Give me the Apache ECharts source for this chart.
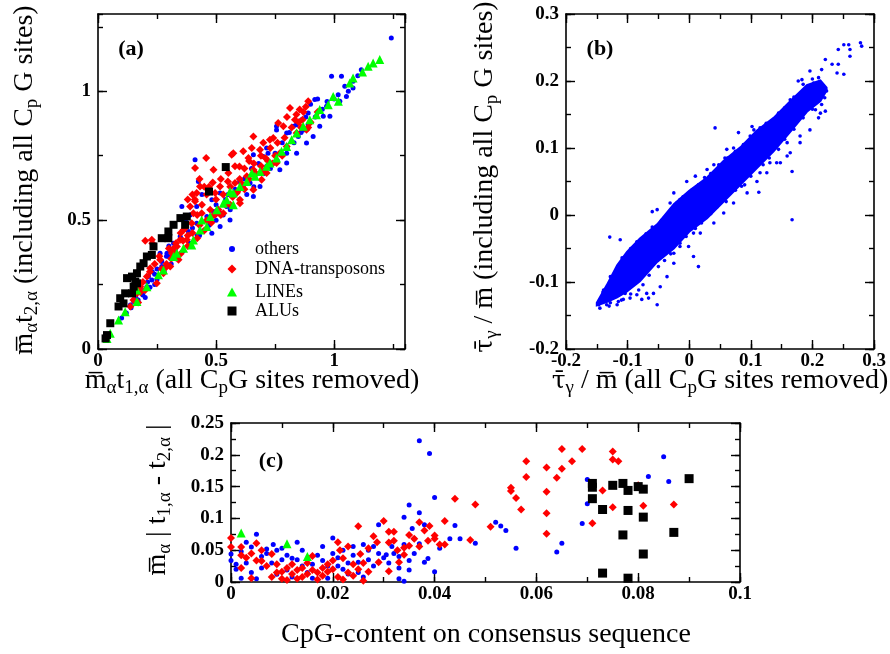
<!DOCTYPE html>
<html><head><meta charset="utf-8">
<script src="https://cdn.jsdelivr.net/npm/echarts@6/dist/echarts.min.js"></script>
<style>html,body{margin:0;padding:0;background:#fff}#c{width:890px;height:654px}</style>
</head><body><div id="c"></div><script>
// ---------- panel (a): m t1 vs m t2 ----------
const aOthers = [[1.242,1.207],[0.989,1.058],[1.031,1.058],[1.115,1.084],[1.08,1.039],[1.06,1.0],[1.045,1.02],[1.052,0.98],[1.017,0.987],[1.08,1.013],[1.1,1.06],[1.0,0.97],
[0.918,0.968],[0.968,0.942],[0.954,0.903],[0.89,0.916],[0.862,0.89],[0.848,0.825],[0.827,0.864],[0.799,0.838],[0.756,0.864],[0.756,0.85],[0.714,0.78],[0.7,0.747],[0.658,0.754],[0.799,0.76],[0.742,0.722],[0.714,0.709],[0.686,0.683],[0.644,0.644],[0.615,0.631],[0.587,0.611],[0.545,0.553],[0.517,0.527],[0.489,0.534],[0.461,0.514],[0.418,0.488],[0.383,0.456],[0.348,0.437],[0.327,0.385],[0.299,0.359],[0.27,0.32],[0.228,0.268],[0.207,0.242],[0.151,0.184],[0.137,0.171],[0.263,0.372],[0.292,0.372],[0.214,0.281],[0.461,0.469],[0.482,0.449],[0.517,0.475],[0.559,0.501],[0.658,0.592],[0.686,0.631],[0.77,0.696],[0.799,0.722],[0.841,0.76],[0.883,0.799],[0.911,0.825],[0.939,0.864],[0.982,0.903],[1.024,0.961],
[0.411,0.734],[0.425,0.65],[0.355,0.553],[0.418,0.553],[0.482,0.579],[0.517,0.605],[0.44,0.6],[0.39,0.52],[0.37,0.5],[0.4,0.47],[0.43,0.44],[0.47,0.48],[0.5,0.5],[0.53,0.52],[0.56,0.54],[0.6,0.58],[0.63,0.6],[0.66,0.63],[0.7,0.68],[0.73,0.7],[0.76,0.73],[0.8,0.78],[0.83,0.8],[0.86,0.84],[0.89,0.87],[0.92,0.9],[0.95,0.93],[0.88,0.9],[0.84,0.87],[0.78,0.8],[0.75,0.76],[0.62,0.66],[0.58,0.62],[0.54,0.58],[0.31,0.33],[0.28,0.3],[0.25,0.27],[0.22,0.24],[0.19,0.21],[0.17,0.19],[0.2,0.2],[0.24,0.25],[0.33,0.35],[0.36,0.38],[0.39,0.41],[0.42,0.44],[0.45,0.46],[0.35,0.43],[0.32,0.41],[0.3,0.4],[0.5,0.56],[0.55,0.6],[0.65,0.7],[0.68,0.72],[0.72,0.76],[0.6,0.65],[0.9,0.95],[0.93,0.97],[0.97,0.96],[0.87,0.85],[0.81,0.84],
[0.1,0.12],[0.12,0.14],[0.14,0.16],[0.16,0.2],[0.18,0.24],[0.21,0.26],[0.23,0.3],[0.25,0.31],[0.27,0.34],[0.29,0.36],[0.31,0.38],[0.24,0.29]];
const aDNA = [[0.411,0.702],[0.458,0.741],[0.489,0.696],[0.486,0.646],[0.496,0.605],[0.566,0.754],[0.573,0.76],[0.599,0.708],[0.615,0.767],[0.658,0.825],[0.686,0.773],[0.728,0.812],[0.742,0.819],[0.813,0.935],[0.854,0.929],[0.89,0.961],[0.866,0.89],[0.834,0.89],[0.785,0.864],[0.763,0.877],[0.651,0.78],[0.637,0.741],[0.58,0.709],[0.552,0.683],[0.58,0.644],[0.587,0.605],[0.601,0.566],[0.63,0.67],[0.658,0.696],[0.517,0.631],[0.432,0.631],[0.418,0.605],[0.411,0.573],[0.39,0.553],[0.404,0.527],[0.439,0.527],[0.475,0.54],[0.496,0.521],[0.531,0.527],[0.397,0.488],[0.362,0.462],[0.348,0.424],[0.334,0.398],[0.313,0.372],[0.376,0.424],[0.228,0.424],[0.263,0.346],[0.284,0.313],[0.221,0.313],[0.207,0.281],[0.179,0.242],[0.165,0.216],[0.137,0.165],[0.601,0.579],[0.658,0.618],[0.693,0.657],[0.714,0.683],[0.756,0.722],[0.78,0.75],[0.841,0.838],[0.883,0.851],[0.89,0.86],[0.9,0.88],[0.77,0.76],[0.799,0.786],[0.74,0.72],[0.7,0.69],[0.62,0.62],[0.56,0.56],[0.52,0.52],[0.48,0.49],[0.45,0.46],[0.42,0.43],[0.38,0.4],[0.35,0.37],[0.341,0.346],[0.306,0.32],[0.277,0.294],[0.249,0.255],[0.2,0.229],[0.17,0.18],
[0.33,0.41],[0.3,0.39],[0.35,0.45],[0.37,0.47],[0.42,0.52],[0.44,0.56],[0.46,0.6],[0.47,0.63],[0.5,0.58],[0.53,0.6],[0.56,0.63],[0.6,0.66],[0.62,0.7],[0.66,0.72],[0.69,0.75],[0.71,0.74],[0.73,0.78],[0.76,0.8],[0.79,0.82],[0.82,0.86],[0.85,0.88],[0.87,0.92],[0.88,0.94],[0.84,0.91],[0.8,0.9],[0.7,0.8],[0.64,0.73],[0.55,0.65],[0.52,0.66],[0.45,0.63],[0.43,0.66],[0.4,0.6],[0.38,0.58],[0.41,0.58],[0.27,0.31],[0.26,0.36],[0.24,0.33],[0.22,0.3],[0.19,0.26],[0.18,0.22],[0.15,0.19],[0.29,0.33],[0.31,0.35],[0.33,0.37],[0.32,0.39],[0.36,0.42],[0.38,0.44],[0.4,0.45],[0.43,0.48],[0.46,0.5],[0.49,0.52],[0.51,0.54],[0.54,0.56],[0.57,0.59],[0.59,0.61],[0.61,0.64],[0.64,0.66],[0.67,0.68],[0.69,0.71],[0.72,0.73],[0.75,0.75],[0.86,0.86],[0.93,0.92],[0.2,0.42],[0.23,0.41]];
const aLines = [[1.193,1.123],[1.165,1.11],[1.144,1.097],[1.12,1.075],[1.08,1.052],[1.066,1.032],[0.996,0.98],[1.018,0.961],[0.975,0.948],[0.939,0.929],[0.925,0.909],[0.897,0.89],[0.869,0.864],[0.841,0.838],[0.82,0.812],[0.799,0.786],[0.777,0.767],[0.756,0.741],[0.728,0.722],[0.714,0.709],[0.686,0.689],[0.665,0.67],[0.651,0.683],[0.63,0.65],[0.601,0.631],[0.573,0.605],[0.559,0.611],[0.545,0.579],[0.531,0.566],[0.573,0.56],[0.503,0.54],[0.475,0.514],[0.439,0.501],[0.461,0.475],[0.432,0.462],[0.404,0.423],[0.397,0.404],[0.362,0.391],[0.334,0.372],[0.32,0.359],[0.277,0.307],[0.256,0.288],[0.207,0.242],[0.165,0.229],[0.165,0.184],[0.115,0.145],[0.087,0.113],[0.052,0.061],[0.038,0.041]];
const aAlus = [[0.032,0.041],[0.038,0.054],[0.052,0.1],[0.087,0.165],[0.094,0.197],[0.115,0.216],[0.144,0.216],[0.123,0.275],[0.144,0.281],[0.158,0.262],[0.165,0.294],[0.179,0.32],[0.193,0.333],[0.207,0.359],[0.228,0.365],[0.235,0.398],[0.27,0.43],[0.298,0.43],[0.298,0.456],[0.32,0.482],[0.349,0.508],[0.376,0.514],[0.369,0.482],[0.47,0.611],[0.541,0.706],[0.151,0.242],[0.165,0.255],[0.108,0.177]];

// ---------- panel (b): tau / m ----------
const bBandX  = [-0.150,-0.134,-0.117,-0.101,-0.080,-0.052,-0.025, 0.000, 0.029, 0.056, 0.083, 0.110, 0.137, 0.164, 0.191, 0.213, 0.223];
const bBandLo = [-0.135,-0.130,-0.123,-0.114,-0.099,-0.070,-0.050,-0.025,-0.005, 0.020, 0.045, 0.070, 0.095, 0.124, 0.154, 0.170, 0.186];
const bBandHi = [-0.131,-0.105,-0.075,-0.055,-0.035,-0.014, 0.016, 0.036, 0.056, 0.081, 0.101, 0.126, 0.145, 0.170, 0.194, 0.201, 0.190];
const bPoints = [[-0.129,-0.033],[-0.112,-0.037],[-0.06,0.005],[-0.052,0.008],[0.042,0.13],[0.102,0.132],[0.159,0.088],[0.167,0.065],[0.167,-0.007],[0.113,0.034],[0.015,-0.077],[-0.004,0.05],[0.01,0.058],[0.058,0.085],[0.08,0.123],[0.072,0.1],[-0.052,-0.134],[-0.066,-0.124],[-0.096,-0.124],[-0.107,-0.126],[-0.117,-0.134],[-0.134,-0.134],[-0.147,-0.134],[-0.139,-0.112],[-0.128,-0.092],[-0.109,-0.064],[-0.09,-0.049],[-0.071,-0.037],[-0.036,-0.007],[-0.02,0.003],[0.026,0.043],[0.045,0.063],[0.067,0.083],[0.094,0.108],[0.121,0.127],[0.137,0.142],[0.164,0.172],[0.177,0.2],[0.183,0.202],[0.196,0.215],[0.215,0.217],[0.221,0.232],[0.232,0.225],[0.242,0.225],[0.24,0.212],[0.251,0.21],[0.242,0.247],[0.251,0.254],[0.259,0.254],[0.261,0.247],[0.261,0.237],[0.278,0.257],[0.28,0.252],[0.223,0.185],[0.221,0.155],[0.21,0.145],[0.205,0.157],[0.18,0.118],[0.159,0.108],[0.142,0.078],[0.131,0.078],[0.115,0.063],[0.085,0.043],[0.05,0.018],[0.029,-0.002],[0.007,-0.027],[-0.001,-0.047],[0.007,-0.062],[-0.025,-0.072],[-0.036,-0.092],[-0.047,-0.107],[-0.058,-0.117],[-0.085,-0.119],[-0.104,-0.117],[-0.082,-0.112],
[-0.025,0.033],[-0.015,0.023],[-0.031,0.018],[0.029,0.068],[0.04,0.075],[0.061,0.098],[0.099,0.118],[0.131,0.132],[0.142,0.147],[0.159,0.162],[0.175,0.177],[0.191,0.187],[0.202,0.197],[-0.144,-0.126],[-0.136,-0.119],[-0.123,-0.107],[-0.12,-0.087],[-0.104,-0.077],[-0.085,-0.057],[-0.074,-0.047],[-0.058,-0.032],[-0.047,-0.022],[-0.069,-0.117],[-0.077,-0.126],[-0.115,-0.129],[-0.128,-0.131],[-0.025,-0.057],[-0.015,-0.047],[0.018,-0.027],[0.04,-0.012],[0.056,0.003],[0.072,0.018],[0.094,0.033],[0.11,0.05],[0.126,0.063],[0.148,0.078],[0.164,0.093],[0.18,0.108],[0.196,0.127],[0.213,0.152],
[-0.14,-0.115],[-0.125,-0.095],[-0.11,-0.07],[-0.095,-0.05],[-0.085,-0.04],[-0.07,-0.028],[-0.06,-0.018],[-0.045,-0.008],[-0.035,0.002],[-0.02,0.018],[-0.01,0.027],[0.005,0.038],[0.015,0.045],[0.025,0.056],[0.035,0.062],[0.048,0.075],[0.062,0.085],[0.075,0.095],[0.088,0.105],[0.105,0.127],[0.115,0.13],[0.125,0.137],[0.145,0.152],[0.155,0.16],[0.17,0.176],[0.185,0.195],[0.2,0.203],[0.21,0.205],
[-0.145,-0.139],[-0.13,-0.136],[-0.11,-0.127],[-0.095,-0.118],[-0.075,-0.104],[-0.065,-0.09],[-0.05,-0.077],[-0.04,-0.068],[-0.03,-0.058],[-0.015,-0.042],[-0.005,-0.032],[0.01,-0.02],[0.02,-0.012],[0.035,0.002],[0.045,0.012],[0.06,0.02],[0.075,0.037],[0.09,0.045],[0.1,0.058],[0.12,0.075],[0.13,0.085],[0.145,0.098],[0.155,0.113],[0.17,0.128],[0.185,0.145],[0.2,0.158],[0.215,0.165],[0.22,0.175]];

// ---------- panel (c): CpG-content vs |t1-t2| ----------
const cOthers = [[0,0.044],[0,0.034],[0.001,0.028],[0.002,0.006],[0.003,0.0625],[0.004,0.055],[0.005,0.075],[0.006,0.04],[0.007,0.045],[0.0083,0.059],[0.009,0.05],[0.01,0.053],[0.01,0.035],[0.011,0.019],[0.012,0.0375],[0.013,0.0625],[0.013,0.035],[0.014,0.025],[0.016,0.028],[0.018,0.056],[0.018,0.034],[0.019,0.025],[0.02,0.069],[0.021,0.025],[0.022,0.05],[0.023,0.0125],[0.024,0.056],[0.025,0.031],[0.026,0.059],[0.027,0.05],[0.029,0.09],[0.001,0.02],[0.003,0.03],[0.004,0.015],[0.006,0.022],[0.008,0.03],[0.009,0.012],[0.011,0.042],[0.012,0.008],[0.015,0.015],[0.017,0.042],[0.019,0.006],[0.02,0.045],[0.021,0.038],[0.022,0.02],[0.023,0.03],[0.024,0.042],[0.025,0.015],[0.026,0.008],[0.027,0.035],[0.028,0.025],[0.029,0.045],[0.03,0.038],[0.031,0.03],[0.032,0.045],[0.033,0.022],[0.033,0.005],[0.034,0.001],[0.035,0.019],[0.036,0.068],[0.0356,0.084],[0.034,0.059],[0.0316,0.056],[0.0305,0.043],[0.029,0.031],[0.035,0.034],[0.038,0.031],[0.0387,0.037],[0.041,0.053],[0.043,0.068],[0.028,0.056],[0.037,0.222],[0.039,0.202],[0.04,0.133],[0.035,0.121],[0.034,0.102],[0.037,0.109],[0.038,0.09],[0.044,0.089],[0.045,0.068],[0.048,0.061],[0.052,0.094],[0.053,0.088],[0.054,0.081],[0.056,0.053],[0.064,0.047],[0.065,0.061],[0.069,0.092],[0.07,0.123],[0.07,0.161],[0.082,0.166],[0.085,0.197],[0.086,0.158],[0.04,0.016],[0.037,0.06],[0.036,0.045],[0.033,0.04],[0.014,0.05],[0.016,0.006],[0.005,0.005],[0.007,0.052],[0.002,0.048]];
const cDNA = [[0,0.069],[0,0.055],[0.002,0.055],[0.002,0.042],[0.002,0.022],[0.004,0.045],[0.004,0.006],[0.005,0.061],[0.005,0.034],[0.006,0.05],[0.006,0.033],[0.007,0.025],[0.008,0.044],[0.009,0.028],[0.009,0.015],[0.01,0.016],[0.011,0.022],[0.011,0.003],[0.012,0.0125],[0.013,0.019],[0.013,0.005],[0.014,0.022],[0.015,0.0125],[0.016,0.041],[0.016,0.019],[0.017,0.015],[0.018,0.022],[0.019,0.016],[0.02,0.034],[0.021,0.0625],[0.0214,0.05],[0.022,0.0375],[0.023,0.056],[0.024,0.028],[0.025,0.0875],[0.0254,0.044],[0.026,0.03],[0.027,0.016],[0.028,0.072],[0.0287,0.0625],[0.029,0.031],[0.03,0.096],[0.031,0.079],[0.032,0.065],[0.034,0.054],[0.035,0.057],[0.036,0.068],[0.037,0.094],[0.038,0.081],[0.039,0.088],[0.04,0.068],[0.04,0.073],[0.041,0.059],[0.042,0.096],[0.042,0.059],[0.032,0.079],[0.033,0.031],[0.031,0.017],[0.034,0.043],[0.037,0.056],[0.0387,0.065],[0.035,0.074],[0.0327,0.05],[0.031,0.062],[0.027,0.053],[0.003,0.038],[0.008,0.008],[0.01,0.005],[0.012,0.028],[0.014,0.008],[0.015,0.03],[0.017,0.004],[0.018,0.01],[0.02,0.02],[0.021,0.008],[0.022,0.004],[0.023,0.015],[0.024,0.01],[0.025,0.02],[0.026,0.002],[0.019,0.028],
[0.044,0.131],[0.047,0.066],[0.048,0.122],[0.051,0.087],[0.055,0.148],[0.055,0.143],[0.056,0.132],[0.057,0.114],[0.058,0.19],[0.058,0.165],[0.062,0.18],[0.062,0.142],[0.062,0.108],[0.062,0.076],[0.064,0.164],[0.065,0.209],[0.065,0.178],[0.067,0.19],[0.069,0.209],[0.071,0.0925],[0.073,0.144],[0.075,0.205],[0.075,0.1925],[0.0761,0.19],[0.075,0.1175],[0.08,0.152],[0.081,0.12],[0.087,0.122]];
const cLines = [[0.002,0.077],[0.011,0.06],[0.015,0.04]];
const cAlus = [[0.071,0.155],[0.071,0.149],[0.071,0.131],[0.073,0.114],[0.073,0.014],[0.075,0.152],[0.077,0.155],[0.078,0.144],[0.078,0.1125],[0.077,0.074],[0.078,0.006],[0.08,0.15],[0.081,0.146],[0.081,0.102],[0.081,0.044],[0.087,0.078],[0.09,0.1625]];

// ---------- tick settings ----------
const aRange = {min:0, max:1.3, major:0.5, minor:0.25};
const bRange = {min:-0.2, max:0.3, major:0.1, minor:0.05};
const cXRange = {min:0, max:0.1, major:0.02, minor:0.01};
const cYRange = {min:0, max:0.25, major:0.05, minor:0.025};
const legendNames = ['others','DNA-transposons','LINEs','ALUs'];

const SERIF = '"Liberation Serif","Times New Roman",serif';
const BLUE = '#0000ff', RED = '#ff0000', GREEN = '#00ff00', BLACK = '#000000';

function axes(dim, grid, r, hideMax) {
  const isX = dim === 'x';
  const base = {type:'value', gridIndex:grid, min:r.min, max:r.max, splitLine:{show:false}, axisPointer:{show:false}, silent:true};
  const line = {show:true, onZero:false, lineStyle:{color:'#000', width:1.6}};
  const noLine = {show:false, onZero:false};
  const posA = isX ? 'bottom' : 'left', posB = isX ? 'top' : 'right';
  const lab = {show:true, color:'#000', fontFamily:SERIF, fontWeight:'bold', fontSize:19, margin: isX ? 3 : 7, showMaxLabel: !hideMax, showMinLabel:true};
  const tMaj = {show:true, inside:true, length:9, lineStyle:{color:'#000', width:1.4}};
  const tMin = {show:true, inside:true, length:5, lineStyle:{color:'#000', width:1.4}};
  return [
    Object.assign({}, base, {position:posA, interval:r.major, axisLine:line, axisTick:tMaj, axisLabel:lab}),
    Object.assign({}, base, {position:posB, interval:r.major, axisLine:line, axisTick:tMaj, axisLabel:{show:false}}),
    Object.assign({}, base, {position:posA, interval:r.minor, axisLine:noLine, axisTick:tMin, axisLabel:{show:false}}),
    Object.assign({}, base, {position:posB, interval:r.minor, axisLine:noLine, axisTick:tMin, axisLabel:{show:false}})
  ];
}

const xAxis = [].concat(axes('x',0,aRange,true), axes('x',1,bRange,false), axes('x',2,cXRange,false));
const yAxis = [].concat(axes('y',0,aRange,true), axes('y',1,bRange,false), axes('y',2,cYRange,false));

function sc(name, data, ax, symbol, size, color, z) {
  return {type:'scatter', name, data, xAxisIndex:ax, yAxisIndex:ax, symbol, symbolSize:size,
    itemStyle:{color, opacity:1}, silent:true, z: z || 2, clip:true};
}

const series = [
  sc('others', aOthers, 0, 'circle', 5, BLUE, 2),
  sc('DNA-transposons', aDNA, 0, 'diamond', 8, RED, 3),
  sc('LINEs', aLines, 0, 'triangle', 9, GREEN, 4),
  sc('ALUs', aAlus, 0, 'rect', 8, BLACK, 5),
  {type:'custom', name:'band', xAxisIndex:4, yAxisIndex:4, silent:true, z:2,
   data:[[bBandX[0], bBandLo[0]]],
   renderItem: function (params, api) {
     const pts = [];
     for (let i = 0; i < bBandX.length; i++) pts.push(api.coord([bBandX[i], bBandHi[i]]));
     for (let i = bBandX.length - 1; i >= 0; i--) pts.push(api.coord([bBandX[i], bBandLo[i]]));
     return {type:'polygon', shape:{points:pts}, style:{fill:BLUE, stroke:BLUE, lineWidth:2}};
   }},
  sc('tau', bPoints, 4, 'circle', 3.6, BLUE, 3),
  sc('others', cOthers, 8, 'circle', 5, BLUE, 2),
  sc('DNA-transposons', cDNA, 8, 'diamond', 8, RED, 3),
  sc('LINEs', cLines, 8, 'triangle', 9, GREEN, 4),
  sc('ALUs', cAlus, 8, 'rect', 9, BLACK, 5)
];

const legRows = [{w:6,h:6,y:249},{w:9,h:9,y:269},{w:10,h:9,y:292},{w:9,h:9,y:311}];
const legend = legRows.map((r,i) => ({
  data:[legendNames[i]], orient:'vertical', left: 232 - r.w/2, top: r.y - 10,
  itemWidth:r.w, itemHeight:r.h, itemGap:0, padding:0, selectedMode:false,
  textStyle:{fontFamily:SERIF, fontSize:18, color:'#000', lineHeight:20, padding:[0,0,0,18 - r.w/2]}
}));

const rich = {
  m:{fontFamily:SERIF, fontSize:28, color:'#000', lineHeight:34},
  t:{fontFamily:'"DejaVu Serif",serif', fontSize:25, color:'#000', lineHeight:34},
  s:{fontFamily:SERIF, fontSize:19, color:'#000', lineHeight:10, verticalAlign:'bottom'}
};
function title(x, y, text, rot) {
  return {type:'text', x, y, rotation: rot ? Math.PI/2 : 0, silent:true,
    style:{text, rich, align:'center', verticalAlign:'middle', fontFamily:SERIF, fontSize:28, fill:'#000'}};
}
function plabel(x, y, t) {
  return {type:'text', x, y, silent:true, style:{text:t, fontFamily:SERIF, fontWeight:'bold', fontSize:22, fill:'#000', align:'center', verticalAlign:'middle'}};
}
const M = 'm\u0305', T = '{t|\u03c4\u0304}';
const graphic = [
  plabel(131, 49, '(a)'), plabel(600, 49, '(b)'), plabel(271, 461, '(c)'),
  title(252, 381, '{m|'+M+'}{s|\u03b1}{m|t}{s|1,\u03b1}{m| (all C}{s|p}{m|G sites removed)}'),
  title(720, 381, T+'{s|\u03b3}{m| / '+M+' (all C}{s|p}{m|G sites removed)}'),
  title(486, 635, '{m|CpG-content on consensus sequence}'),
  title(25, 180, '{m|'+M+'}{s|\u03b1}{m|t}{s|2,\u03b1}{m| (including all C}{s|p}{m| G sites)}', true),
  title(485, 177, T+'{s|\u03b3}{m| / '+M+' (including all C}{s|p}{m| G sites)}', true),
  title(158, 500, '{m|'+M+'}{s|\u03b1}{m| | t}{s|1,\u03b1}{m| - t}{s|2,\u03b1}{m| |}', true)
];

const chart = echarts.init(document.getElementById('c'), null, {renderer:'canvas'});
chart.setOption({
  animation:false,
  backgroundColor:'#ffffff',
  grid:[
    {left:98, top:14, width:307, height:335, outerBoundsMode:'none'},
    {left:566, top:14, width:308, height:335, outerBoundsMode:'none'},
    {left:231, top:423, width:509, height:159, outerBoundsMode:'none'}
  ],
  xAxis, yAxis, series, legend, graphic
});
</script></body></html>
